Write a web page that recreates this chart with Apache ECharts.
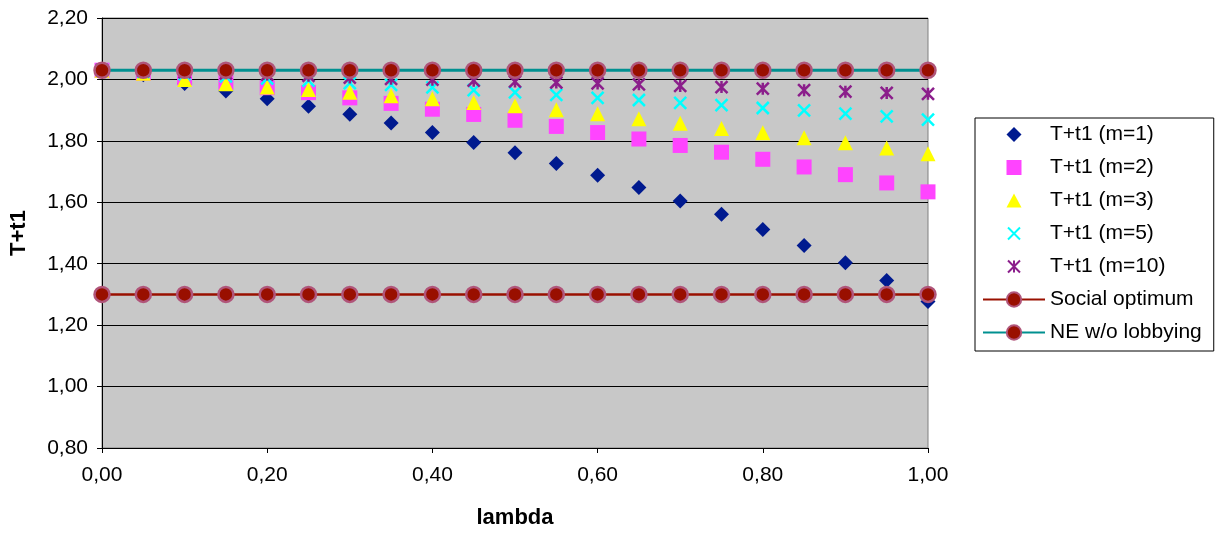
<!DOCTYPE html>
<html>
<head>
<meta charset="utf-8">
<script src="https://cdn.jsdelivr.net/npm/echarts@6/dist/echarts.min.js"></script>
<style>
html,body{margin:0;padding:0;background:#fff;}
#chart{width:1221px;height:534px;}
</style>
</head>
<body>
<div id="chart"></div>
<script>
const lambda = [0,0.05,0.10,0.15,0.20,0.25,0.30,0.35,0.40,0.45,0.50,0.55,0.60,0.65,0.70,0.75,0.80,0.85,0.90,0.95,1.00];
const m1  = [2.03,2.015,1.987,1.962,1.937,1.913,1.887,1.858,1.827,1.795,1.761,1.726,1.688,1.648,1.604,1.561,1.511,1.459,1.403,1.345,1.277];
const m2  = [2.03,2.02,2.005,1.99,1.973,1.957,1.94,1.922,1.903,1.886,1.867,1.847,1.827,1.806,1.785,1.763,1.740,1.715,1.690,1.663,1.634];
const m3  = [2.03,2.02,2.0,1.986,1.975,1.967,1.958,1.947,1.937,1.925,1.914,1.901,1.888,1.872,1.857,1.84,1.826,1.81,1.794,1.777,1.758];
const m5  = [2.03,2.025,2.017,2.01,2.003,1.996,1.988,1.982,1.974,1.965,1.958,1.95,1.94,1.933,1.924,1.916,1.907,1.899,1.889,1.88,1.869];
const m10 = [2.03,2.028,2.024,2.02,2.016,2.012,2.006,2.002,1.999,1.996,1.993,1.99,1.987,1.984,1.979,1.975,1.97,1.965,1.96,1.956,1.953];
const socialOpt = [1.30,1.30,1.30,1.30,1.30,1.30,1.30,1.30,1.30,1.30,1.30,1.30,1.30,1.30,1.30,1.30,1.30,1.30,1.30,1.30,1.30];
const neNoLobby = [2.03,2.03,2.03,2.03,2.03,2.03,2.03,2.03,2.03,2.03,2.03,2.03,2.03,2.03,2.03,2.03,2.03,2.03,2.03,2.03,2.03];
const seriesNames = ['T+t1 (m=1)','T+t1 (m=2)','T+t1 (m=3)','T+t1 (m=5)','T+t1 (m=10)','Social optimum','NE w/o lobbying'];

const pairs = arr => lambda.map((x,i)=>[x,arr[i]]);
const fmt = v => v.toFixed(2).replace('.', ',');
const FONT = 'Liberation Sans, Arial, sans-serif';

const crossPath = 'path://M0 0 L10 10 M10 0 L0 10';
const starPath = 'path://M0 0 L10 10 M10 0 L0 10 M5 0 L5 10';

// legend icons drawn inside a 62x18 box so they are not stretched
const BOX = 'path://M0 0 M62 18 ';
const legendIcons = [
  BOX + 'M31 1.5 L38.5 9 L31 16.5 L23.5 9 Z',
  BOX + 'M23.5 1.5 L38.5 1.5 L38.5 16.5 L23.5 16.5 Z',
  BOX + 'M31 2 L38.5 16 L23.5 16 Z',
  BOX + 'M25 3 L37 15 M37 3 L25 15',
  BOX + 'M25 3 L37 15 M37 3 L25 15 M31 3 L31 15',
  null, null
];

const circleStyle = {color:'#990f00', borderColor:'#b0557a', borderWidth:2.5, opacity:1};

const chart = echarts.init(document.getElementById('chart'), null, {renderer:'canvas'});
chart.setOption({
  animation:false,
  backgroundColor:'#ffffff',
  textStyle:{fontFamily:FONT},
  grid:{left:101, top:18, right:293, bottom:84, show:true, backgroundColor:'#c8c8c8', borderColor:'#808080', borderWidth:1},
  legend:{
    orient:'vertical', left:975, top:118, width:245,
    backgroundColor:'#ffffff', borderColor:'#000', borderWidth:1,
    padding:[6,12,8,7], itemWidth:62, itemHeight:18, itemGap:12,
    textStyle:{fontFamily:FONT, fontSize:21, color:'#000'},
    data:seriesNames.map((n,i)=> legendIcons[i] ? {name:n, icon:legendIcons[i]} : {name:n})
  },
  xAxis:{
    type:'value', min:0, max:1, interval:0.2,
    name:'lambda', nameLocation:'middle', nameGap:59,
    nameTextStyle:{fontFamily:FONT, fontSize:22, fontWeight:'bold', color:'#000'},
    axisLine:{show:true, onZero:false, lineStyle:{color:'#000', width:1}},
    axisTick:{show:true, length:5, lineStyle:{color:'#000'}},
    axisLabel:{formatter:fmt, fontFamily:FONT, fontSize:21, color:'#000', margin:17},
    splitLine:{show:false}
  },
  yAxis:{
    type:'value', min:0.8, max:2.2, interval:0.2,
    name:'T+t1', nameLocation:'middle', nameGap:72,
    nameTextStyle:{fontFamily:FONT, fontSize:22, fontWeight:'bold', color:'#000'},
    axisLine:{show:true, onZero:false, lineStyle:{color:'#000', width:1}},
    axisTick:{show:true, length:5, lineStyle:{color:'#000'}},
    axisLabel:{formatter:fmt, fontFamily:FONT, fontSize:21, color:'#000', margin:14},
    splitLine:{show:true, lineStyle:{color:'#000', width:1}}
  },
  series:[
    {name:seriesNames[0], type:'scatter', data:pairs(m1), symbol:'diamond', symbolSize:15, itemStyle:{color:'#001a8f', opacity:1}, z:2},
    {name:seriesNames[1], type:'scatter', data:pairs(m2), symbol:'rect', symbolSize:15, itemStyle:{color:'#ff44ff', opacity:1}, z:2},
    {name:seriesNames[2], type:'scatter', data:pairs(m3), symbol:'triangle', symbolSize:15, itemStyle:{color:'#ffff00', opacity:1}, z:2},
    {name:seriesNames[3], type:'scatter', data:pairs(m5), symbol:crossPath, symbolSize:12, itemStyle:{color:'rgba(0,0,0,0)', borderColor:'#00ffff', borderWidth:2.5, opacity:1}, z:2},
    {name:seriesNames[4], type:'scatter', data:pairs(m10), symbol:starPath, symbolSize:12, itemStyle:{color:'rgba(0,0,0,0)', borderColor:'#8b1e8b', borderWidth:2.5, opacity:1}, z:2},
    {name:seriesNames[5], type:'line', data:pairs(socialOpt), symbol:'circle', symbolSize:15, showSymbol:true, lineStyle:{color:'#991000', width:2.5}, itemStyle:circleStyle, z:3},
    {name:seriesNames[6], type:'line', data:pairs(neNoLobby), symbol:'circle', symbolSize:15, showSymbol:true, lineStyle:{color:'#009090', width:3}, itemStyle:circleStyle, z:3}
  ]
});
</script>
</body>
</html>
